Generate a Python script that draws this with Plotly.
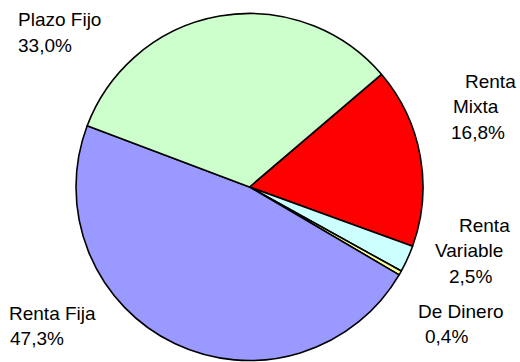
import plotly.graph_objects as go

# Portfolio composition by fund type (share of total, %)
categories = ["Renta Mixta", "Renta Variable", "De Dinero", "Renta Fija", "Plazo Fijo"]
shares = [16.8, 2.5, 0.4, 47.3, 33.0]
label_lines = [["Renta", "Mixta"], ["Renta", "Variable"], ["De Dinero"], ["Renta Fija"], ["Plazo Fijo"]]

slice_colors = ["#FF0000", "#CCFFFF", "#FFFF99", "#9999FF", "#CCFFCC"]

W, H = 520, 362
L, T, S = 75.5, 13, 348  # plot area left/top and size (px)

fig = go.Figure(go.Pie(
    labels=categories,
    values=shares,
    sort=False,
    direction="clockwise",
    rotation=49.5,
    textinfo="none",
    marker=dict(colors=slice_colors, line=dict(color="#000000", width=1.6)),
    showlegend=False,
    hoverinfo="label+percent",
))

# Label placement: left edge and first-line baseline of each label block (px)
label_anchor = [(465, 88), (459, 232), (417, 318), (7, 320), (16, 27)]
# horizontal offset of each line inside a block (px), relative to the first line
line_offsets = [[0, -12, -14], [0, -24, -10], [0, 8], [0, 1], [0, 0]]
LINE_GAP = 25.5
FONT = dict(family="Liberation Sans, Arial, sans-serif", size=19, color="#000000")


def px_to_paper(px, py):
    return (px - L) / S, 1 - (py - T) / S


for i, name_lines in enumerate(label_lines):
    pct = f"{shares[i]:.1f}".replace(".", ",") + "%"
    lines = name_lines + [pct]
    x0, base = label_anchor[i]
    for j, txt in enumerate(lines):
        px = x0 + line_offsets[i][j]
        py = base + j * LINE_GAP - 7
        xp, yp = px_to_paper(px, py)
        fig.add_annotation(
            x=xp, y=yp, xref="paper", yref="paper",
            text=txt, showarrow=False,
            xanchor="left", yanchor="middle",
            font=FONT, borderpad=0,
        )

fig.update_layout(
    width=W, height=H,
    margin=dict(l=L, r=W - L - S, t=T, b=H - T - S, pad=0),
    paper_bgcolor="#FFFFFF",
    plot_bgcolor="#FFFFFF",
)

fig.write_html("out.html")
